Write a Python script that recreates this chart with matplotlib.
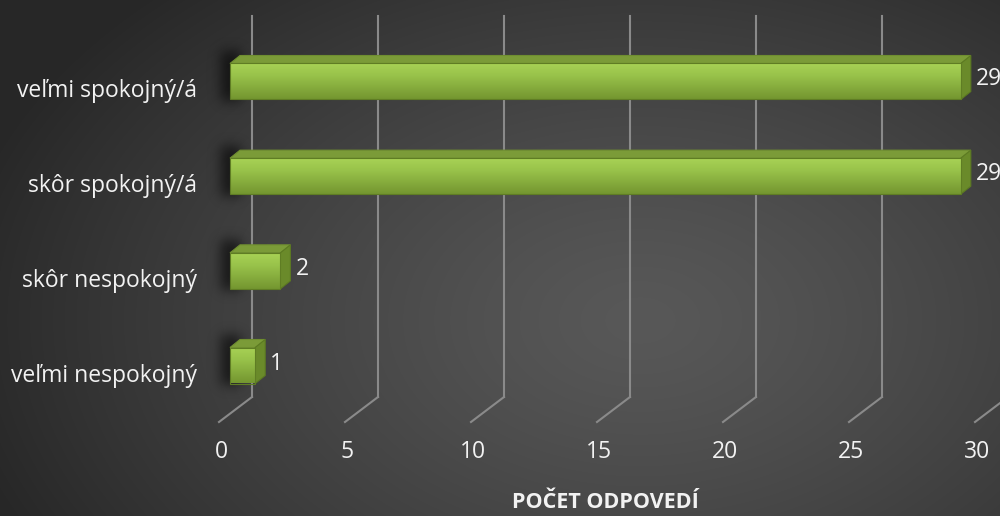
import numpy as np
import matplotlib.pyplot as plt
from matplotlib.patches import Polygon, FancyBboxPatch

categories = ['veľmi nespokojný', 'skôr nespokojný', 'skôr spokojný/á', 'veľmi spokojný/á']
counts = [1, 2, 29, 29]
ticks = [0, 5, 10, 15, 20, 25, 30]
axis_title = 'POČET ODPOVEDÍ'

plt.rcParams['font.family'] = ['Open Sans', 'DejaVu Sans']

W, H = 1000, 516
fig = plt.figure(figsize=(W / 100, H / 100), dpi=100)

# dark radial background
bg = fig.add_axes([0, 0, 1, 1])
yy, xx = np.mgrid[0:H, 0:W]
r = np.clip(np.hypot((xx - 640) / 700.0, (yy - 320) / 460.0), 0, 1)
inner = np.array([0x58, 0x58, 0x58]) / 255
outer = np.array([0x27, 0x27, 0x27]) / 255
img = inner + (outer - inner) * (r[..., None] ** 1.3)
bg.imshow(img, extent=[0, W, H, 0], aspect='auto')
bg.set_xlim(0, W)
bg.set_ylim(H, 0)
bg.axis('off')

ax = fig.add_axes([0, 0, 1, 1])
ax.patch.set_alpha(0)
sx = 25.2    # px per unit on x
sy = 94.67   # px per category step
x0 = 230     # px of zero on the bar front
y0 = H - 365.5
ax.set_xlim(-x0 / sx, (W - x0) / sx)
ax.set_ylim(-y0 / sy, (H - y0) / sy)
ax.axis('off')


def px(dx):
    return dx / sx


def py(dy):
    return dy / sy


top_cat = len(categories) - 1
grid_c = '#8a8a8a'
fs = 16.5
# back wall grid + floor diagonals
for v in ticks:
    xb = v + px(22)
    ax.plot([xb, xb], [0 - py(31.5), top_cat + py(65.5)], color=grid_c, lw=1.5, zorder=1)
    ax.plot([xb, v - px(11)], [0 - py(31.5), 0 - py(56.5)], color=grid_c, lw=1.5, zorder=1)
    ax.text(v - px(9), 0 - py(86.5), str(v), color='#f2f2f2', fontsize=fs,
            ha='center', va='center')

ax.text(15 - px(3), 0 - py(137), axis_title, color='#f2f2f2', fontsize=15.5,
        fontweight='bold', ha='center', va='center')

# soft shadow at the left end of the bars
mask = np.zeros((H, W))
trans = ax.transData
hh = 18
for i, v in enumerate(counts):
    (xa, ya) = trans.transform((0, i))
    yt = H - ya
    mask[int(yt - hh - 12):int(yt + hh + 2), int(xa - 8):int(xa + 12)] = 1
k = np.exp(-np.arange(-18, 19) ** 2 / (2 * 6.0 ** 2))
k /= k.sum()
blur = np.apply_along_axis(lambda m: np.convolve(m, k, mode='same'), 1, mask)
blur = np.apply_along_axis(lambda m: np.convolve(m, k, mode='same'), 0, blur)
shadow = np.zeros((H, W, 4))
shadow[..., 3] = blur * 0.6
bg.imshow(shadow, extent=[0, W, H, 0], aspect='auto', zorder=2)

grad = np.linspace(0, 1, 64)[:, None]
front_top = np.array([0xa8, 0xd2, 0x55]) / 255
front_mid = np.array([0x98, 0xc2, 0x4a]) / 255
front_bot = np.array([0x74, 0x96, 0x30]) / 255
face = np.where(grad < 0.35,
                front_top + (front_mid - front_top) * (grad / 0.35),
                front_mid + (front_bot - front_mid) * ((grad - 0.35) / 0.65))
face = np.repeat(face[:, None, :], 2, axis=1).reshape(64, 2, 3)

dx, dy = px(10), py(8)
h = py(hh)
for i, v in enumerate(counts):
    # top face
    ax.add_patch(Polygon([(0, i + h), (v, i + h), (v + dx, i + h + dy), (dx, i + h + dy)],
                         closed=True, fc='#7b9b38', ec='#6f8e30', lw=0.8, zorder=3))
    # side face
    ax.add_patch(Polygon([(v, i - h), (v, i + h), (v + dx, i + h + dy), (v + dx, i - h + dy)],
                         closed=True, fc='#6a8a2a', ec='#5c7a22', lw=0.8, zorder=3))
    # front face
    rect = FancyBboxPatch((0, i - h), v, 2 * h, boxstyle='square,pad=0',
                          fc='none', ec='#5f7d24', lw=0.8, zorder=5)
    im = ax.imshow(face, extent=[0, v, i - h, i + h], origin='upper',
                   aspect='auto', zorder=4)
    ax.add_patch(rect)
    im.set_clip_path(rect)
    ax.text(v + dx + px(5), i + py(2), str(v), color='#f2f2f2', fontsize=fs,
            ha='left', va='center', zorder=6)

ax.set_xlim(-x0 / sx, (W - x0) / sx)
ax.set_ylim(-y0 / sy, (H - y0) / sy)

# category labels
for i, c in enumerate(categories):
    ax.text(-px(33), i - py(10), c, color='#f2f2f2', fontsize=fs,
            ha='right', va='center', zorder=6)

fig.savefig('out.png', dpi=100)
